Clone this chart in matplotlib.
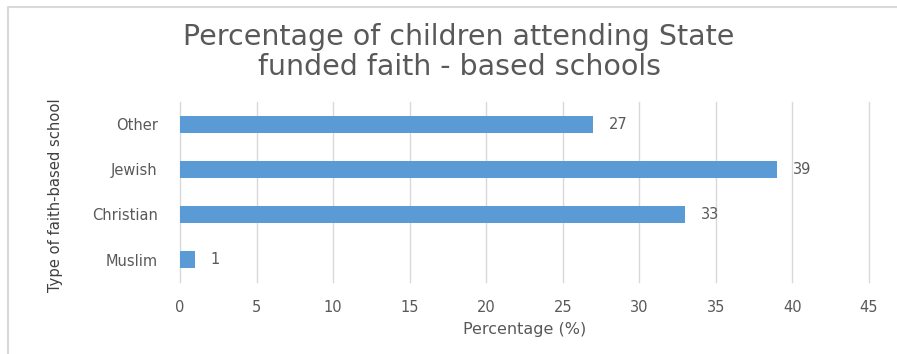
import matplotlib
matplotlib.use("Agg")
import matplotlib.pyplot as plt
from matplotlib.lines import Line2D

categories = ["Muslim", "Christian", "Jewish", "Other"]
values = [1, 33, 39, 27]
x_ticks = [0, 5, 10, 15, 20, 25, 30, 35, 40, 45]

bar_color = "#5B9BD5"
text_color = "#595959"
grid_color = "#D9D9D9"

plt.rcParams["font.family"] = ["DejaVu Sans"]

fig = plt.figure(figsize=(8.97, 3.54), dpi=100)
W, H = 897, 354
ax = fig.add_axes([180 / W, 1 - 282 / H, (869 - 180) / W, (282 - 102) / H])

# chart frame: top and left edges
fig.lines.append(Line2D([8 / W, 8 / W, 1.0], [0.0, 1 - 7 / H, 1 - 7 / H],
                        transform=fig.transFigure, color="#D9D9D9",
                        linewidth=1.5))

y = range(len(categories))
ax.barh(y, values, height=0.36, color=bar_color, zorder=3)
for yi, v in zip(y, values):
    ax.text(v + 1.0, yi, str(v), va="center", ha="left", fontsize=10.5,
            color=text_color)

ax.set_xlim(0, 45)
ax.set_ylim(-0.5, len(categories) - 0.5)
ax.set_xticks(x_ticks)
ax.set_yticks(list(y))
ax.set_yticklabels(categories)
ax.tick_params(axis="both", length=0, labelsize=10.5, labelcolor=text_color)
ax.tick_params(axis="x", pad=13)
ax.tick_params(axis="y", pad=16)
ax.grid(axis="x", color=grid_color, linewidth=1, zorder=0)
for gl in ax.get_xgridlines():
    gl.set_clip_on(False)
for s in ax.spines.values():
    s.set_visible(False)

ax.set_xlabel("Percentage (%)", fontsize=11.5, color=text_color, labelpad=5)
ax.set_ylabel("Type of faith-based school", fontsize=11.8, color="#404040",
              fontstretch="condensed")
ax.yaxis.set_label_coords((55 - 180) / (869 - 180), (282 - 195) / (282 - 102))
ax.yaxis.label.set_va("center")

fig.text(459 / W, 1 - 37 / H, "Percentage of children attending State",
         ha="center", va="center", fontsize=20.5, color=text_color)
fig.text(459 / W, 1 - 67 / H, "funded faith - based schools",
         ha="center", va="center", fontsize=20.5, color=text_color)

fig.savefig("out.png", dpi=100, facecolor="white")
